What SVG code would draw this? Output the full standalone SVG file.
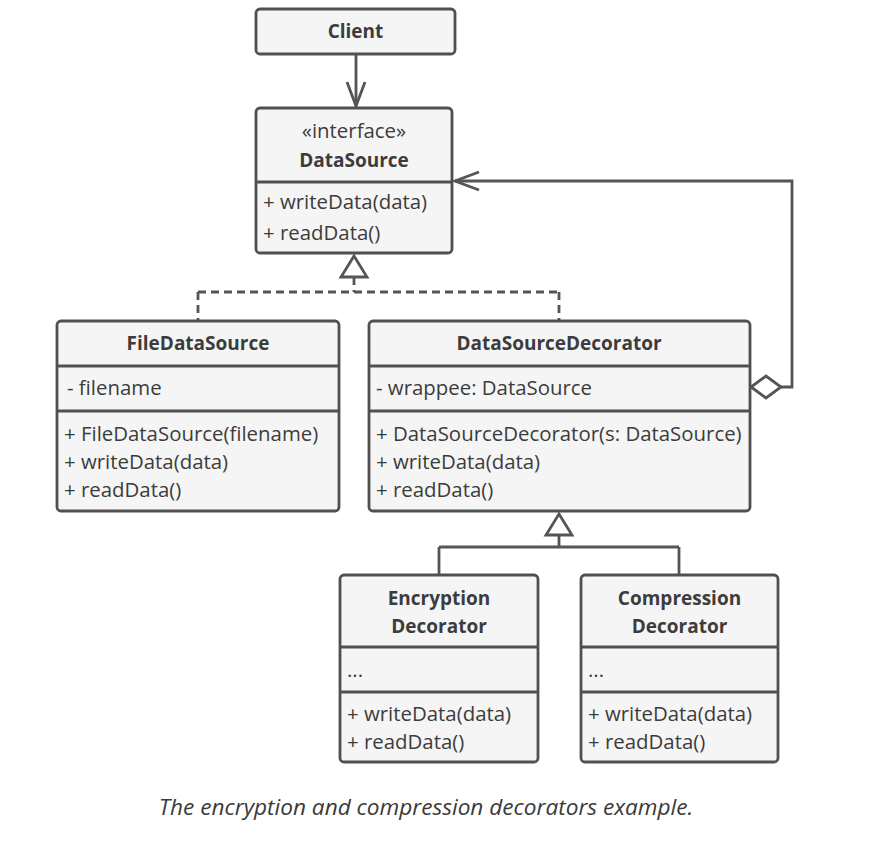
<svg xmlns="http://www.w3.org/2000/svg" width="881" height="856" viewBox="0 0 881 856">
<style>
.box{fill:#f5f5f5;stroke:#505050;stroke-width:2.8}
.div{stroke:#505050;stroke-width:2.8;fill:none}
.t{font-family:"Open Sans","DejaVu Sans",sans-serif;font-size:20.4px;fill:#3c3c3c}
.b{font-weight:bold;text-anchor:middle;font-size:19px}
.c{text-anchor:middle}
.ln{stroke:#555;stroke-width:2.8;fill:none}
.dash{stroke-dasharray:8 5}
.cap{font-family:"Open Sans","DejaVu Sans",sans-serif;font-size:22.6px;font-style:italic;fill:#3a3a3a;text-anchor:middle}
</style>
<rect width="881" height="856" fill="#ffffff"/>
<g id="connectors">
  <path class="ln" d="M356,54 V106"/>
  <path class="ln" d="M347,82 L356,106 L365,82"/>
  <path class="ln dash" d="M354,277 V292 M198,292 H559 M198,292 V321 M559,292 V321"/>
  <polygon points="354,256 341,277 367,277" fill="#fff" stroke="#555" stroke-width="2.8"/>
  <path class="ln" d="M781,387 H792 V181 H455"/>
  <path class="ln" d="M479,172 L455,181 L479,190"/>
  <polygon points="751,387 766,376 781,387 766,398" fill="#fff" stroke="#555" stroke-width="2.8"/>
  <path class="ln" d="M559,535 V547 M439,547 H679 M439,547 V575 M679,547 V575"/>
  <polygon points="559,514 546,535 572,535" fill="#fff" stroke="#555" stroke-width="2.8"/>
</g>
<g id="client">
  <rect class="box" x="256" y="9" width="199" height="45" rx="4"/>
  <text class="t b" x="355.5" y="38">Client</text>
</g>
<g id="datasource">
  <rect class="box" x="256" y="108" width="196" height="145" rx="4"/>
  <path class="div" d="M256,182 H452"/>
  <text class="t c" x="354" y="138">«interface»</text>
  <text class="t b" x="354" y="167">DataSource</text>
  <text class="t" x="263" y="209">+ writeData(data)</text>
  <text class="t" x="263" y="240">+ readData()</text>
</g>
<g id="filedatasource">
  <rect class="box" x="57" y="321" width="282" height="190" rx="4"/>
  <path class="div" d="M57,366 H339 M57,411 H339"/>
  <text class="t b" x="198" y="350">FileDataSource</text>
  <text class="t" x="67" y="395">- filename</text>
  <text class="t" x="64" y="441">+ FileDataSource(filename)</text>
  <text class="t" x="64" y="469">+ writeData(data)</text>
  <text class="t" x="64" y="497">+ readData()</text>
</g>
<g id="datasourcedecorator">
  <rect class="box" x="369" y="321" width="381" height="190" rx="4"/>
  <path class="div" d="M369,366 H750 M369,411 H750"/>
  <text class="t b" x="559" y="350">DataSourceDecorator</text>
  <text class="t" x="376" y="395">- wrappee: DataSource</text>
  <text class="t" x="376" y="441">+ DataSourceDecorator(s: DataSource)</text>
  <text class="t" x="376" y="469">+ writeData(data)</text>
  <text class="t" x="376" y="497">+ readData()</text>
</g>
<g id="encryption">
  <rect class="box" x="340" y="575" width="198" height="187" rx="4"/>
  <path class="div" d="M340,647 H538 M340,692 H538"/>
  <text class="t b" x="439" y="605">Encryption</text>
  <text class="t b" x="439" y="633">Decorator</text>
  <text class="t" x="347" y="677">...</text>
  <text class="t" x="347" y="721">+ writeData(data)</text>
  <text class="t" x="347" y="749">+ readData()</text>
</g>
<g id="compression">
  <rect class="box" x="581" y="575" width="197" height="187" rx="4"/>
  <path class="div" d="M581,647 H778 M581,692 H778"/>
  <text class="t b" x="679.5" y="605">Compression</text>
  <text class="t b" x="679.5" y="633">Decorator</text>
  <text class="t" x="588" y="677">...</text>
  <text class="t" x="588" y="721">+ writeData(data)</text>
  <text class="t" x="588" y="749">+ readData()</text>
</g>
<text class="cap" x="426" y="815">The encryption and compression decorators example.</text>
</svg>
